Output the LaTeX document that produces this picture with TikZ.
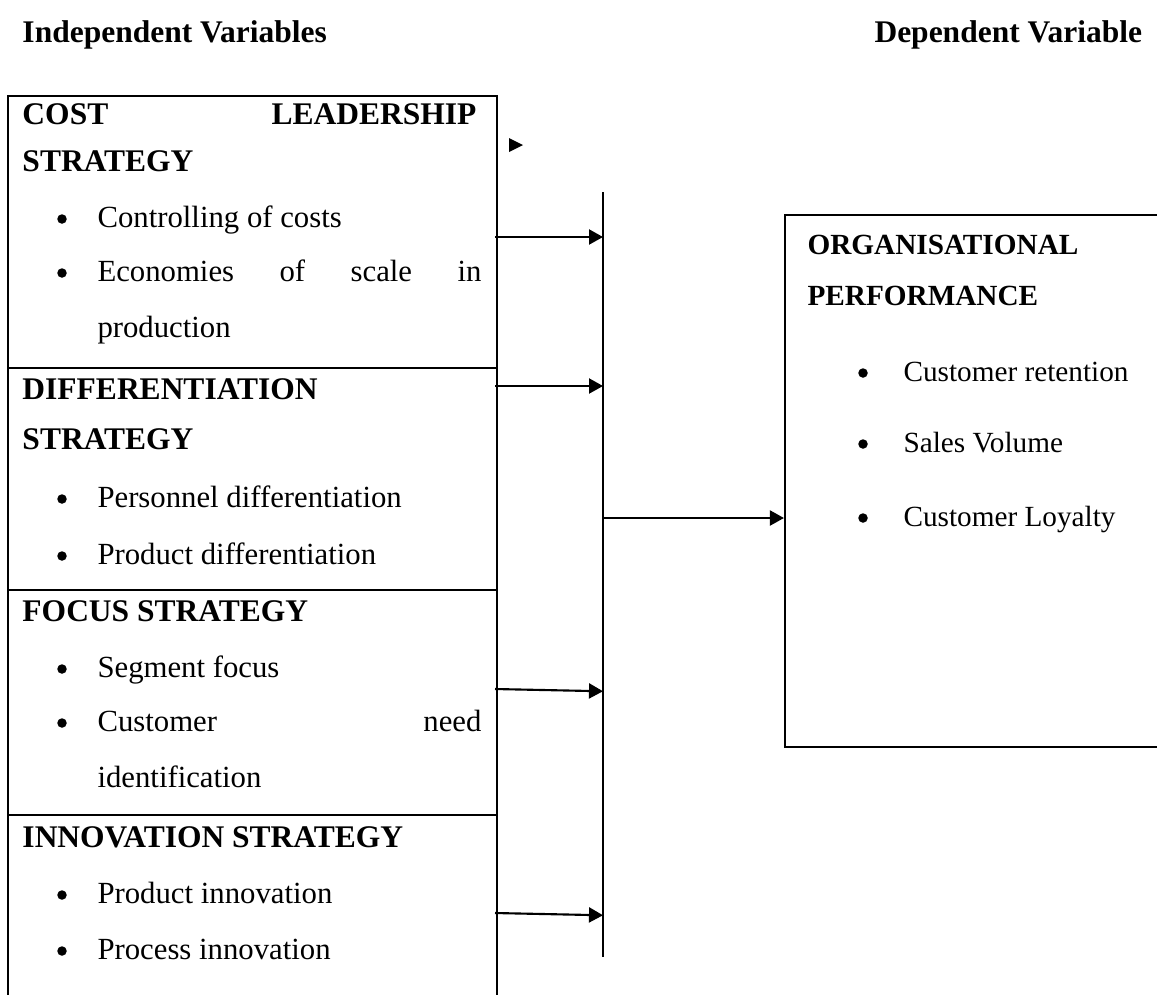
\documentclass[tikz,border=0pt]{standalone}
\usepackage{fontspec}
\setmainfont{Liberation Serif}
\usetikzlibrary{arrows.meta}
\usetikzlibrary{fit}
\newlength\pxu
\setlength\pxu{0.4pt}

\begin{document}
\begin{tikzpicture}[
  x=\pxu, y=-\pxu,
  every node/.style={inner sep=0, font=\fontsize{12.3}{14}\selectfont},
  box/.style={draw, line width=0.85pt},
  head/.style={anchor=base west, font=\fontsize{12.6}{14}\selectfont\bfseries},
  item/.style={anchor=base west},
  rhead/.style={anchor=base west, font=\fontsize{11.7}{14}\selectfont\bfseries},
  ritem/.style={anchor=base west, font=\fontsize{11.7}{14}\selectfont},
  dot/.style={circle, fill, minimum size=3.8pt},
  link/.style={line width=0.85pt, -{Triangle[length=5.6pt,width=6pt]}}
]
\useasboundingbox (0,0) rectangle (1157,994);

\node[head] (indep) at (22,42) {Independent Variables};
\node[head] (dep) at (874,42) {Dependent Variable};

% strategy blocks, the last one runs off the page
\node[box, fit={(8,96) (497,368)}] (cost) {};
\node[box, fit={(8,368) (497,590)}] (diff) {};
\node[box, fit={(8,590) (497,815)}] (focus) {};
\node[box, fit={(8,815) (497,1010)}] (innov) {};

\node[head] (c0) at (22,124) {\makebox[454\pxu]{COST\hfill LEADERSHIP}};
\node[head] (c1) at (22,171) {STRATEGY};
\node[item] (c2) at (97,227) {Controlling of costs};
\node[item] (c3) at (97,281) {\makebox[384\pxu]{Economies\hfill of\hfill scale\hfill in}};
\node[item] (c4) at (97,337) {production};

\node[head] (d0) at (22,399) {DIFFERENTIATION};
\node[head] (d1) at (22,449) {STRATEGY};
\node[item] (d2) at (97,507) {Personnel differentiation};
\node[item] (d3) at (97,564) {Product differentiation};

\node[head] (f0) at (22,621) {FOCUS STRATEGY};
\node[item] (f1) at (97,677) {Segment focus};
\node[item] (f2) at (97,731) {\makebox[384\pxu]{Customer\hfill need}};
\node[item] (f3) at (97,787) {identification};

\node[head] (i0) at (22,847) {INNOVATION STRATEGY};
\node[item] (i1) at (97,903) {Product innovation};
\node[item] (i2) at (97,959) {Process innovation};

\foreach \y [count=\i] in {227,281,507,564,677,731,903,959}
  \node[dot] (lb\i) at (62,{\y-8}) {};

% outcome block, open on the right
\node[box, fit={(785,215) (1175,747)}] (perf) {};
\node[rhead] (p0) at (807,254) {ORGANISATIONAL};
\node[rhead] (p1) at (807,305) {PERFORMANCE};
\node[ritem] (p2) at (903,381) {Customer retention};
\node[ritem] (p3) at (903,452) {Sales Volume};
\node[ritem] (p4) at (903,526) {Customer Loyalty};
\foreach \y [count=\i] in {381,452,526}
  \node[dot] (rb\i) at (863,{\y-8}) {};

% collecting bar
\coordinate (bt) at (603,192);
\coordinate (bb) at (603,957);
\draw[line width=0.85pt] (bt) -- (bb);

\coordinate (a1) at (495,237);
\coordinate (a2) at (495,386);
\coordinate (a3) at (495,689);
\coordinate (a4) at (495,913);
\foreach \a in {a1,a2}
  \draw[link] (\a) -- (\a -| bt);
\foreach \a in {a3,a4}
  \draw[link] (\a) -- ([yshift=-0.9pt]\a -| bt);
\coordinate (a5) at (603,518);
\draw[link] (a5) -- (a5 -| perf.west);

\fill (509,138) -- (523,145) -- (509,152) -- cycle;
\end{tikzpicture}
\end{document}
